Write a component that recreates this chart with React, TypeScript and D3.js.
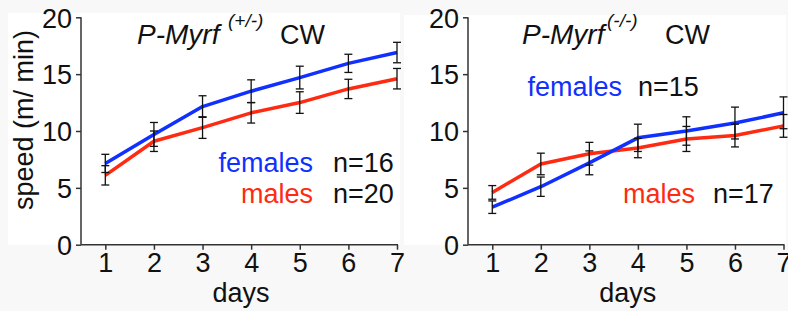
import { useRef, useEffect } from 'react';
import * as d3 from 'd3';

// days on the rotarod, speed in m/min (mean ± sem)
const days = [1, 2, 3, 4, 5, 6, 7];
const yTicks = [0, 5, 10, 15, 20];

const hetFemales = [7.15, 9.7, 12.15, 13.5, 14.7, 15.95, 16.9];
const hetFemalesErr = [0.8, 1.05, 0.95, 1.0, 1.0, 0.8, 0.9];
const hetMales = [6.1, 9.1, 10.3, 11.6, 12.5, 13.7, 14.6];
const hetMalesErr = [0.85, 0.9, 0.95, 0.9, 0.95, 0.85, 0.9];

const koFemales = [3.3, 5.1, 7.2, 9.4, 10.0, 10.7, 11.6];
const koFemalesErr = [0.55, 0.85, 1.05, 1.2, 1.25, 1.4, 1.4];
const koMales = [4.6, 7.1, 8.0, 8.5, 9.3, 9.6, 10.45];
const koMalesErr = [0.6, 0.95, 1.0, 0.85, 1.1, 1.0, 1.0];

const BLUE = '#1030ff';
const RED = '#ff2a12';
const FONT = '"Liberation Sans", Arial, sans-serif';

export default function App() {
  const svgRef = useRef<SVGSVGElement>(null);

  useEffect(() => {
    document.body.style.margin = '0';
    const svg = d3.select(svgRef.current);
    svg.selectAll('*').remove();

    svg.append('rect').attr('width', 788).attr('height', 311).attr('fill', '#f8f8f8');

    const panels = [
      {
        x0: 81, x1: 397, white: [8, 13, 392, 232], yLabel: true,
        genotype: '(+/-)', titleX: 137, supX: 228, cwX: 280,
        series: [
          { vals: hetFemales, err: hetFemalesErr, color: BLUE },
          { vals: hetMales, err: hetMalesErr, color: RED },
        ],
        legend: [
          { label: 'females', n: 'n=16', color: BLUE, x: 313, nx: 333, y: 172 },
          { label: 'males', n: 'n=20', color: RED, x: 313, nx: 333, y: 203 },
        ],
      },
      {
        x0: 468, x1: 783.5, white: [404, 15, 382, 230], yLabel: false,
        genotype: '(-/-)', titleX: 522, supX: 607, cwX: 665,
        series: [
          { vals: koMales, err: koMalesErr, color: RED },
          { vals: koFemales, err: koFemalesErr, color: BLUE },
        ],
        legend: [
          { label: 'females', n: 'n=15', color: BLUE, x: 622, nx: 638, y: 96 },
          { label: 'males', n: 'n=17', color: RED, x: 695, nx: 713, y: 203 },
        ],
      },
    ];

    const y = d3.scaleLinear().domain([0, 20]).range([244.7, 17.3]);

    panels.forEach(p => {
      const x = d3.scaleLinear().domain([0.5, 7]).range([p.x0, p.x1]);
      const [wx, wy, ww, wh] = p.white;
      svg.append('rect').attr('x', wx).attr('y', wy).attr('width', ww).attr('height', wh).attr('fill', '#fff');

      // axes
      const yAxis = svg.append('g').attr('transform', `translate(${p.x0},0)`)
        .call(d3.axisLeft(y).tickValues(yTicks).tickSize(5).tickPadding(4).tickFormat(d3.format('d')));
      yAxis.selectAll('text').attr('fill', '#111').style('font-size', '27px').style('font-family', FONT).attr('dy', '0.36em');
      const xAxis = svg.append('g').attr('transform', `translate(0,${y(0)})`)
        .call(d3.axisBottom(x).tickValues(days).tickSize(5).tickPadding(3).tickFormat(d3.format('d')));
      xAxis.selectAll('text').attr('fill', '#111').style('font-size', '27px').style('font-family', FONT).attr('dy', '0.72em');
      svg.selectAll('.domain, .tick line').attr('stroke', '#333').attr('stroke-width', 1.5);
      xAxis.select('.domain').attr('d', `M${p.x0},0H${p.x1 + 1}`);
      yAxis.select('.domain').attr('d', `M0,${y(0)}V${y(20)}`);

      svg.append('text').attr('x', (p.x0 + p.x1) / 2 + 2).attr('y', 302)
        .attr('text-anchor', 'middle').attr('fill', '#111')
        .style('font-size', '27px').style('font-family', FONT).text('days');

      if (p.yLabel) {
        svg.append('text').attr('transform', `translate(33,120) rotate(-90)`)
          .attr('text-anchor', 'middle').attr('fill', '#111')
          .style('font-size', '27px').style('font-family', FONT).text('speed (m/ min)');
      }

      // title
      svg.append('text').attr('x', p.titleX).attr('y', 44).attr('fill', '#111')
        .style('font-size', '28px').style('font-style', 'italic').style('font-family', FONT).text('P-Myrf');
      svg.append('text').attr('x', p.supX).attr('y', 27).attr('fill', '#111')
        .style('font-size', '19px').style('font-style', 'italic').style('font-family', FONT).text(p.genotype);
      svg.append('text').attr('x', p.cwX).attr('y', 44).attr('fill', '#111')
        .style('font-size', '27px').style('font-family', FONT).text('CW');

      // lines
      const line = d3.line<number>().x((_, i) => x(days[i])).y(d => y(d));
      p.series.forEach(s => {
        svg.append('path').datum(s.vals).attr('d', line)
          .attr('fill', 'none').attr('stroke', s.color).attr('stroke-width', 3.5)
          .attr('stroke-linejoin', 'round');
      });

      // error bars
      p.series.forEach(s => {
        s.vals.forEach((v, i) => {
          const cx = x(days[i]);
          const top = y(v + s.err[i]);
          const bot = y(v - s.err[i]);
          const g = svg.append('g').attr('stroke', '#111').attr('stroke-width', 1.3);
          g.append('line').attr('x1', cx).attr('x2', cx).attr('y1', top).attr('y2', bot);
          g.append('line').attr('x1', cx - 4).attr('x2', cx + 4).attr('y1', top).attr('y2', top);
          g.append('line').attr('x1', cx - 4).attr('x2', cx + 4).attr('y1', bot).attr('y2', bot);
        });
      });

      // legend
      p.legend.forEach(l => {
        svg.append('text').attr('x', l.x).attr('y', l.y).attr('text-anchor', 'end').attr('fill', l.color)
          .style('font-size', '27px').style('font-family', FONT).text(l.label);
        svg.append('text').attr('x', l.nx).attr('y', l.y).attr('fill', '#111')
          .style('font-size', '27px').style('font-family', FONT).text(l.n);
      });
    });
  }, []);

  return (
    <svg ref={svgRef} width={788} height={311} style={{ display: 'block' }} />
  );
}
